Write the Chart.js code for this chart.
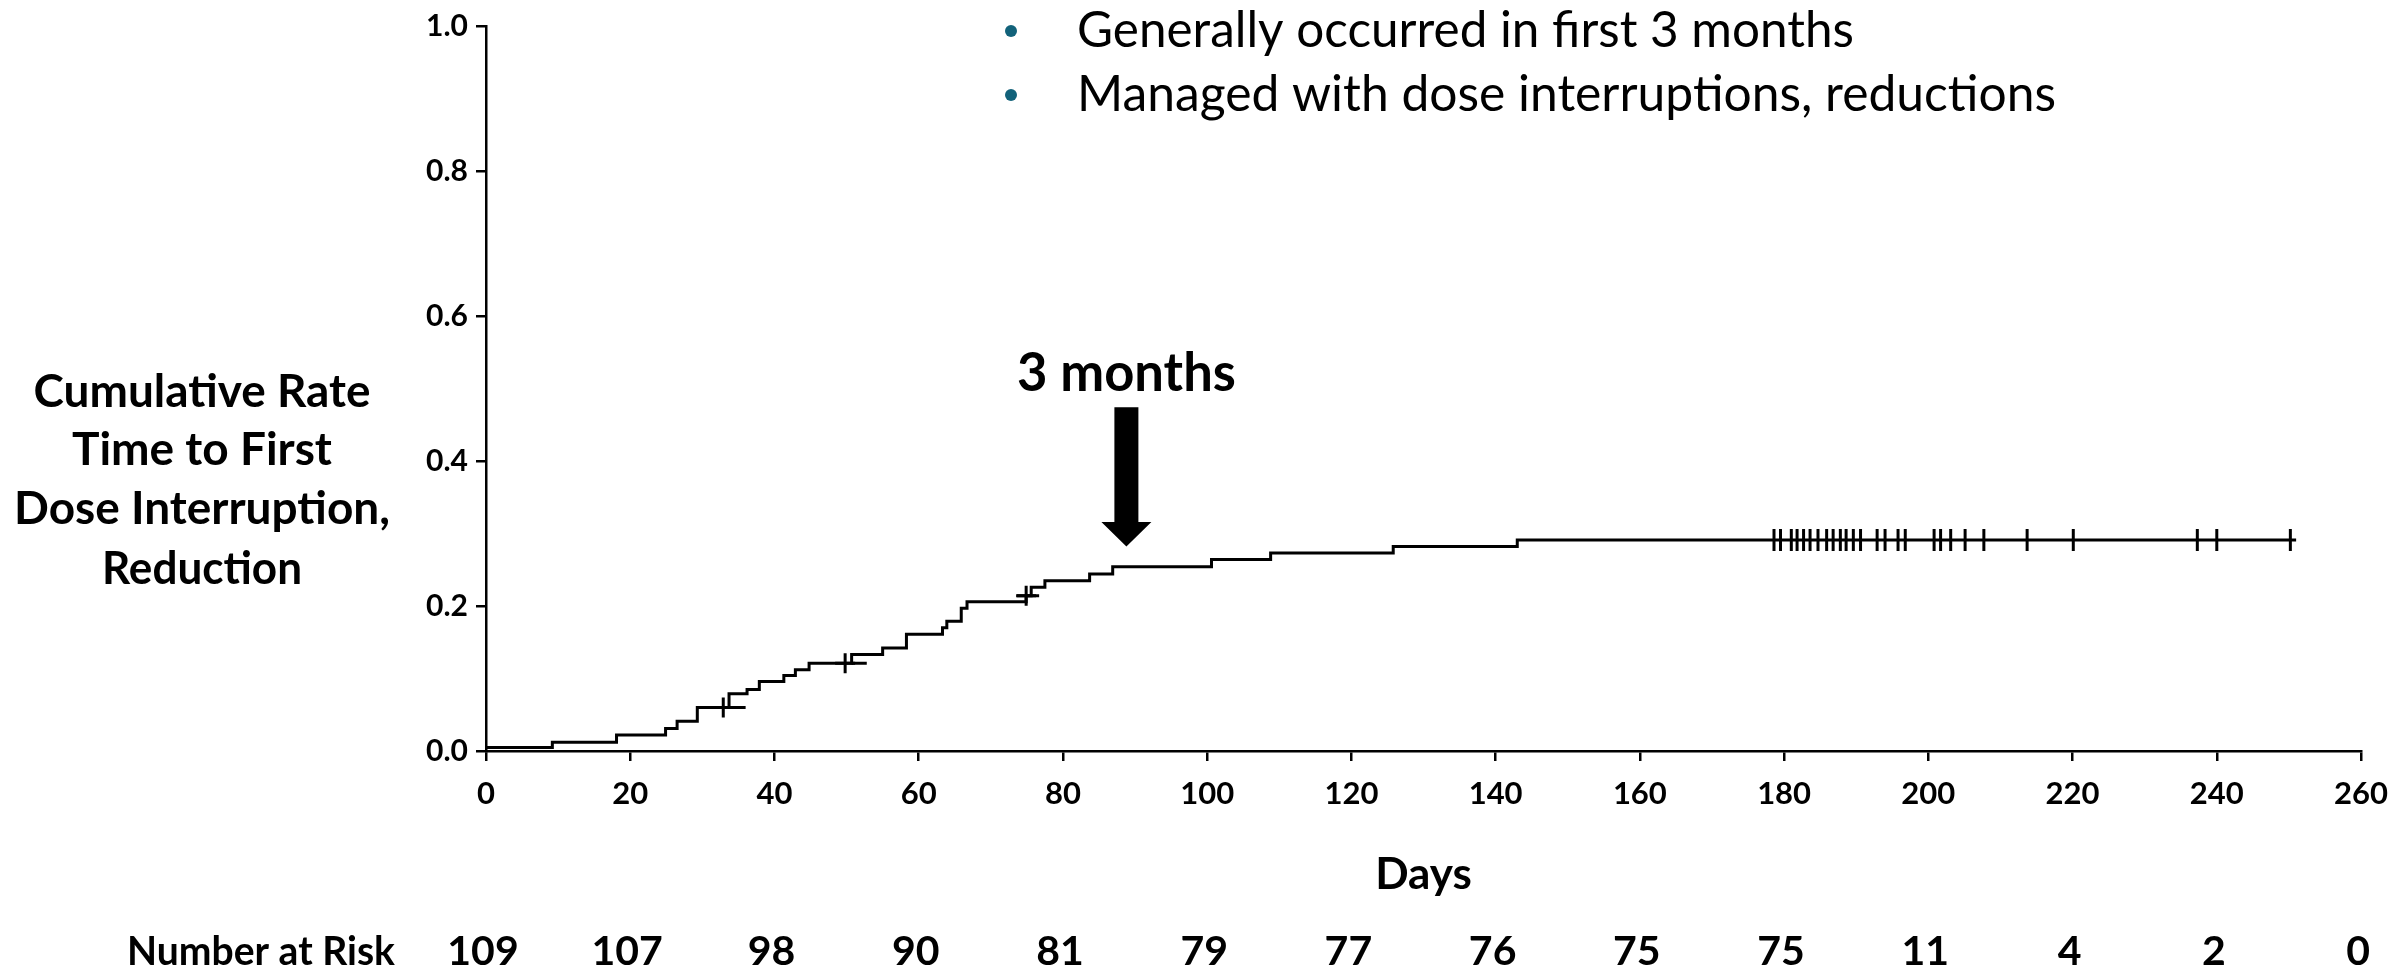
<!DOCTYPE html>
<html>
<head>
<meta charset="utf-8">
<title>Cumulative Rate Time to First Dose Interruption, Reduction</title>
<script src="https://cdn.jsdelivr.net/npm/chart.js@4.4.1/dist/chart.umd.min.js"></script>
<style>
body{margin:0;background:#fff;}
#wrap{width:2402px;height:970px;}
</style>
</head>
<body>
<div id="wrap"><canvas id="kmChart" width="2402" height="970"></canvas></div>
<script>

// step curve (day, cumulative rate after the step)
const stepDays  = [0, 9.2, 18.1, 24.9, 26.5, 29.3, 33.7, 36.2, 37.9, 41.3, 42.9, 44.8, 50.7, 55.0, 58.3, 63.3, 63.9, 65.9, 66.7, 74.9, 75.6, 77.5, 83.7, 86.9, 100.6, 108.8, 125.8, 143.0, 251.0];
const stepRates = [0.005, 0.012, 0.022, 0.031, 0.041, 0.060, 0.079, 0.085, 0.096, 0.104, 0.112, 0.121, 0.133, 0.142, 0.161, 0.170, 0.179, 0.197, 0.206, 0.214, 0.226, 0.235, 0.244, 0.254, 0.264, 0.273, 0.282, 0.291, 0.291];

// censored patients
const earlyCensorDays  = [32.9, 49.8, 74.9];
const earlyCensorRates = [0.060, 0.121, 0.214];
const censorDays = [178.6, 179.5, 181.0, 181.8, 182.7, 183.6, 184.7, 185.9, 186.8, 187.8, 188.6, 189.6, 190.6, 192.9, 194.0, 195.8, 196.8, 200.8, 201.7, 203.1, 205.1, 207.7, 213.7, 220.1, 237.3, 240.0, 250.2];
const censorRate = 0.291;

// short overhangs of the censor crosses
const stubStart = [33.7, 50.7, 73.6];
const stubEnd   = [36.0, 52.8, 76.7];
const stubRates = [0.060, 0.121, 0.214];

// number at risk table
const riskDays = [0, 20, 40, 60, 80, 100, 120, 140, 160, 180, 200, 220, 240, 260];
const atRisk   = [109, 107, 98, 90, 81, 79, 77, 76, 75, 75, 11, 4, 2, 0];

const yTitle = ["Cumulative Rate", "Time to First", "Dose Interruption,", "Reduction"];
const bullets = ["Generally occurred in first 3 months", "Managed with dose interruptions, reductions"];

const arrowDay = 88.8;

const FONT = "Lato";

function txt(ctx, s, x, y, size, weight, align, maxW){
ctx.font = weight + " " + size + "px " + FONT;
ctx.textAlign = align;
ctx.textBaseline = "middle";
ctx.fillStyle = "#000";
if(maxW){ ctx.fillText(s, x, y, maxW); } else { ctx.fillText(s, x, y); }
}

const extras = {
id: "extras",
afterDraw(chart){
const ctx = chart.ctx;
const xs = chart.scales.x;
const ys = chart.scales.y;
ctx.save();

// y title, four centred lines
const yW = [337, 262, 376, 200];
const yY = [392, 450, 509, 569];
yTitle.forEach((s,i)=>txt(ctx, s, 202, yY[i], 46, "bold", "center", yW[i]));

// x title
txt(ctx, "Days", xs.getPixelForValue(130), 875, 44, "bold", "center", 100);

// number at risk
txt(ctx, "Number at Risk", 395, 952, 40, "bold", "right", 268);
riskDays.forEach((d,i)=>{
txt(ctx, String(atRisk[i]), xs.getPixelForValue(d) - 3, 952, 41, "bold", "center");
});

// bullets
const bW = [777, 979];
const bY = [31, 95];
bullets.forEach((s,i)=>{
ctx.fillStyle = "#12627a";
ctx.beginPath();
ctx.arc(1011, bY[i], 6, 0, Math.PI*2);
ctx.fill();
txt(ctx, s, 1077, bY[i], 50, "normal", "left", bW[i]);
});

// 3 months arrow
const ax = xs.getPixelForValue(arrowDay);
const top = ys.getPixelForValue(0.474);
const headTop = ys.getPixelForValue(0.316);
const tip = ys.getPixelForValue(0.282);
ctx.fillStyle = "#000";
ctx.beginPath();
ctx.moveTo(ax-12, top);
ctx.lineTo(ax+12, top);
ctx.lineTo(ax+12, headTop);
ctx.lineTo(ax+25, headTop);
ctx.lineTo(ax, tip);
ctx.lineTo(ax-25, headTop);
ctx.lineTo(ax-12, headTop);
ctx.closePath();
ctx.fill();
txt(ctx, "3 months", ax, ys.getPixelForValue(0.52), 54, "bold", "center", 219);

ctx.restore();
}
};

const curve = stepDays.map((d,i)=>({x:d, y:stepRates[i]}));
const lateCensors = censorDays.map(d=>({x:d, y:censorRate}));
const earlyCensors = earlyCensorDays.map((d,i)=>({x:d, y:earlyCensorRates[i]}));
const stubs = [];
stubStart.forEach((d,i)=>{
stubs.push({x:d, y:stubRates[i]});
stubs.push({x:stubEnd[i], y:stubRates[i]});
stubs.push({x:stubEnd[i]+0.1, y:null});
});

const ctx = document.getElementById("kmChart");

const chart = new Chart(ctx,{
type:"line",
data:{
datasets:[
{
label:"Cumulative rate",
data:curve,
stepped:"before",
borderColor:"#000",
borderWidth:3,
pointRadius:0,
fill:false
},
{
label:"stubs",
data:stubs,
borderColor:"#000",
borderWidth:3,
pointRadius:0,
spanGaps:false,
fill:false
},
{
label:"Censored",
data:lateCensors,
showLine:false,
pointStyle:"line",
rotation:90,
pointRadius:11,
borderColor:"#000",
borderWidth:3
},
{
label:"Censored early",
data:earlyCensors,
showLine:false,
pointStyle:"cross",
pointRadius:10,
borderColor:"#000",
borderWidth:3
}
]
},
options:{
responsive:false,
animation:false,
events:[],
layout:{padding:{left:0, right:29, top:26, bottom:0}},
plugins:{
legend:{display:false},
tooltip:{enabled:false}
},
scales:{
x:{
type:"linear",
min:0,
max:260,
afterFit:s=>{ s.height = 219; },
ticks:{
stepSize:20,
padding:14,
color:"#000",
font:{family:FONT, weight:"bold", size:31}
},
grid:{drawOnChartArea:false, drawTicks:true, tickLength:10, color:"#000", lineWidth:2.5},
border:{color:"#000", width:2.5}
},
y:{
min:0,
max:1,
afterFit:s=>{ s.width = 486; },
ticks:{
stepSize:0.2,
padding:8,
color:"#000",
font:{family:FONT, weight:"bold", size:30},
callback:v=>Number(v).toFixed(1)
},
grid:{drawOnChartArea:false, drawTicks:true, tickLength:10, color:"#000", lineWidth:2.5},
border:{color:"#000", width:2.5}
}
}
},
plugins:[extras]
});

</script>
</body>
</html>
